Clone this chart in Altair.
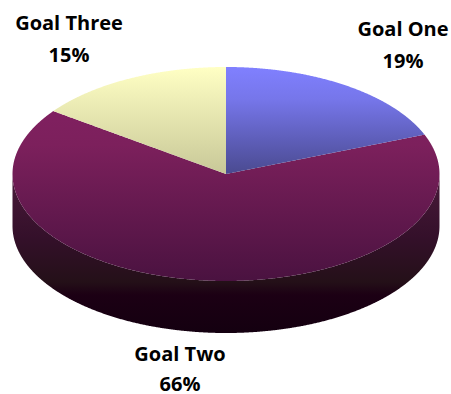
import numpy as np
import pandas as pd
import altair as alt

# Goal breakdown, clockwise from twelve o'clock
categories = ["Goal One", "Goal Two", "Goal Three"]
shares = [19, 66, 15]

W, H = 451, 394
CX, CY, RX, RY = 226, 174, 213.5, 107   # tilted disc: centre and radii in pixels
DEPTH = 52 / RY                         # wall height in disc units

x_scale = alt.Scale(domain=[-CX / RX, (W - CX) / RX], range=[0, W], nice=False, zero=False)
y_scale = alt.Scale(domain=[CY / RY, (CY - H) / RY], range=[0, H], nice=False, zero=False)

# Slice boundaries on the unit circle (angles clockwise from the top)
a1 = 2 * np.pi * shares[0] / 100
a2 = 2 * np.pi * (shares[0] + shares[1]) / 100
x1, y1 = np.sin(a1), np.cos(a1)
x2, y2 = np.sin(a2), np.cos(a2)


def sweep(lo, hi, extra=()):
    """x positions between lo and hi, denser towards the disc's edges."""
    t = np.linspace(-np.pi / 2, np.pi / 2, 721)
    xs = np.sin(t)
    xs = np.concatenate([xs[(xs >= lo) & (xs <= hi)], [lo, hi], list(extra)])
    return np.unique(xs)


def upper(x):
    return np.sqrt(np.clip(1 - x ** 2, 0, None))


def inner_edge(x):
    """Upper edge of the big slice: rim outside the cut, spokes inside it."""
    out = upper(x)
    left = (x >= x2) & (x <= 0)
    right = (x >= 0) & (x <= x1)
    out[left] = x[left] * (y2 / x2)
    out[right] = x[right] * (y1 / x1)
    return out


xs_first = sweep(0, x1)
first = pd.DataFrame({"x": xs_first, "y": upper(xs_first), "y2": xs_first * (y1 / x1)})

xs_third = sweep(x2, 0)
third = pd.DataFrame({"x": xs_third, "y": upper(xs_third), "y2": xs_third * (y2 / x2)})

xs_second = sweep(-1, 1, extra=[x1, x2, 0.0])
second = pd.DataFrame({"x": xs_second, "y": inner_edge(xs_second), "y2": -upper(xs_second)})

xs_wall = sweep(-1, 1)
wall = pd.DataFrame({"x": xs_wall, "y": -upper(xs_wall), "y2": -upper(xs_wall) - DEPTH})


def ramp(stops):
    return alt.Gradient(
        gradient="linear",
        x1=0, x2=0, y1=0, y2=1,
        stops=[alt.GradientStop(offset=o, color=c) for o, c in stops],
    )


def face(frame, stops):
    return alt.Chart(frame).mark_area(
        color=ramp(stops), interpolate="linear", line=False, opacity=1
    ).encode(
        x=alt.X("x:Q", scale=x_scale, axis=None),
        y=alt.Y("y:Q", scale=y_scale, axis=None),
        y2="y2:Q",
    )


wall_layer = face(wall, [(0, "#4a1a3a"), (0.4, "#34102a"), (0.68, "#241018"),
                         (0.76, "#1c0014"), (1, "#140010")])
second_layer = face(second, [(0, "#802060"), (0.2, "#7c205c"), (1, "#4a1240")])
first_layer = face(first, [(0, "#8080ff"), (0.3, "#7676ea"), (1, "#4a4a90")])
third_layer = face(third, [(0, "#ffffc4"), (1, "#c8c898")])

# Caption pairs: name and percentage above one another
caption_spots = {"Goal One": (403, 30, 62), "Goal Two": (180, 355, 385), "Goal Three": (69, 24, 56)}
captions = []
for name, share in zip(categories, shares):
    px, py_name, py_pct = caption_spots[name]
    row = pd.DataFrame({"name": [name], "pct": [f"{share}%"]})
    for field, py in (("name", py_name), ("pct", py_pct)):
        captions.append(
            alt.Chart(row).mark_text(
                font="Open Sans", fontSize=20, fontWeight="bold", color="#000000",
                align="center", baseline="middle",
            ).encode(x=alt.value(px), y=alt.value(py), text=f"{field}:N")
        )

chart = alt.layer(wall_layer, second_layer, first_layer, third_layer, *captions).properties(
    width=W, height=H, padding=0,
    autosize=alt.AutoSizeParams(type="none"),
    background="#ffffff",
).configure_view(stroke=None)

chart.save("out.html", embed_options={"renderer": "svg", "actions": False})
